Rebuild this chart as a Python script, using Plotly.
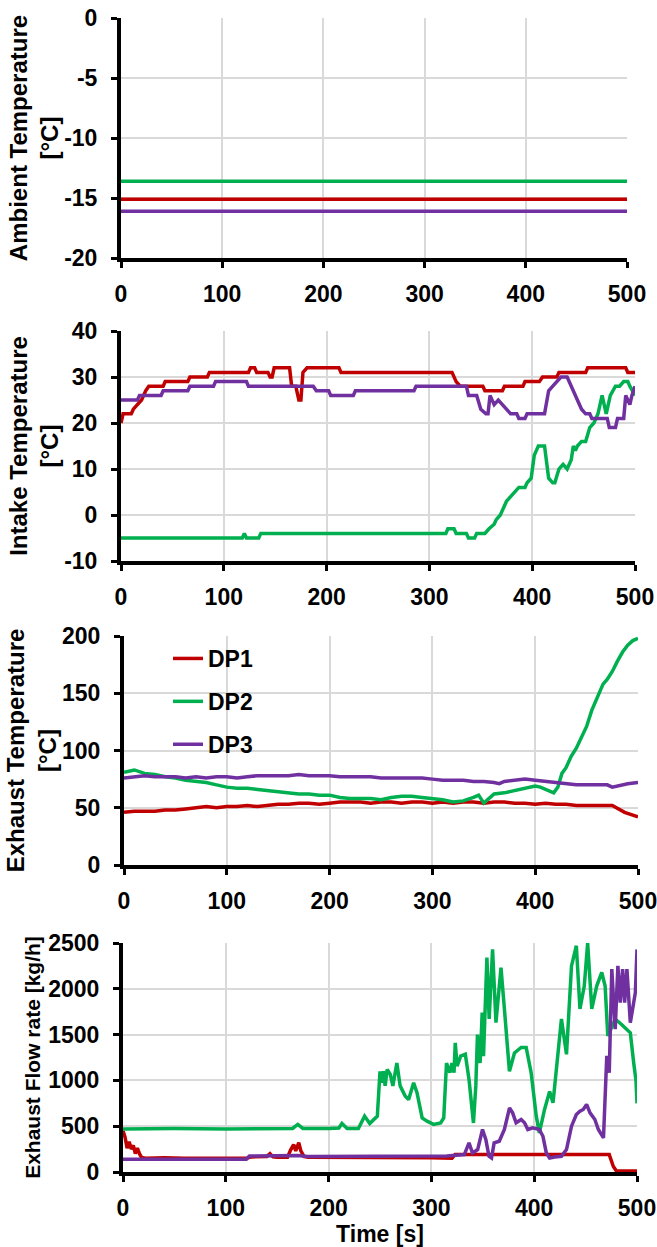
import plotly.graph_objects as go

W, H = 657, 1247
RED, GREEN, PURPLE = "#C00000", "#00B050", "#7030A0"
FONT = "Liberation Sans, Arial, sans-serif"

series_names = ["DP1", "DP2", "DP3"]
time_ticks = [0, 100, 200, 300, 400, 500]

# ---------------- Panel 1: Ambient temperature ----------------
amb_t = [0, 500]
amb_dp1 = [-15.1, -15.1]
amb_dp2 = [-13.6, -13.6]
amb_dp3 = [-16.1, -16.1]
amb_ticks = [-20, -15, -10, -5, 0]

# ---------------- Panel 2: Intake temperature ----------------
int_dp1_t = [0, 2, 5, 10, 12, 16, 20, 24, 27, 41, 43, 65, 67, 84, 86, 124, 126, 130, 132, 143, 145,
             147, 149, 164, 166, 170, 173, 175, 177, 181, 212, 214, 322, 326, 330, 352, 354, 371, 373,
             391, 393, 407, 410, 424, 426, 452, 454, 491, 493, 500]
int_dp1 = [20, 22, 22, 22, 23, 24, 25, 27, 28, 28, 29, 29, 30, 30, 31, 31, 32, 32, 31, 31, 30,
           30, 32, 32, 28, 28, 25, 25, 31, 32, 32, 31, 31, 29, 28, 28, 27, 27, 28,
           28, 29, 29, 30, 30, 31, 31, 32, 32, 31, 31]
int_dp2_t = [0, 118, 120, 122, 124, 134, 136, 316, 318, 324, 326, 336, 338, 344, 346, 354, 358, 363,
             365, 369, 371, 375, 379, 383, 387, 393, 395, 399, 402, 404, 406, 412, 414, 416, 420, 422,
             426, 430, 434, 436, 438, 440, 442, 444, 448, 452, 456, 460, 464, 468, 472, 476, 481, 485,
             489, 493, 495, 500]
int_dp2 = [-5, -5, -4, -5, -5, -5, -4, -4, -3, -3, -4, -4, -5, -5, -4, -4, -3, -2,
           -1, 0, 1, 3, 4, 5, 6, 6, 7, 8, 13, 14, 15, 15, 12, 8, 7, 7,
           10, 11, 10, 11, 12, 15, 14, 15, 16, 16, 19, 20, 22, 26, 22, 26, 28, 28,
           29, 29, 28, 26]
int_dp3_t = [0, 16, 18, 39, 41, 65, 67, 90, 92, 122, 124, 187, 190, 202, 204, 226, 228, 285, 287, 336,
             338, 346, 350, 355, 357, 359, 363, 367, 371, 375, 379, 385, 387, 393, 395, 412, 416, 420,
             424, 428, 434, 436, 440, 444, 448, 452, 456, 458, 473, 475, 481, 483, 489, 491, 495, 497, 500]
int_dp3 = [25, 25, 26, 26, 27, 27, 28, 28, 29, 29, 28, 28, 27, 27, 26, 26, 27, 27, 28, 28,
           26, 26, 23, 22, 22, 26, 24, 25, 24, 23, 22, 22, 21, 21, 22, 22, 27, 28,
           29, 30, 30, 29, 27, 25, 23, 22, 22, 21, 21, 19, 19, 21, 21, 26, 24, 26, 28]
int_ticks = [-10, 0, 10, 20, 30, 40]

# ---------------- Panel 3: Exhaust temperature ----------------
exh_dp1_t = [0, 10, 20, 30, 40, 50, 60, 70, 80, 90, 100, 110, 120, 130, 140, 150, 160, 170, 180, 190,
             200, 210, 220, 230, 240, 250, 260, 270, 280, 290, 300, 310, 320, 330, 340, 350, 360, 370,
             380, 390, 400, 410, 420, 430, 440, 450, 460, 470, 475, 487, 500]
exh_dp1 = [46, 47, 47, 47, 48, 48, 49, 50, 51, 50, 51, 51, 52, 51, 52, 53, 53, 54, 54, 53,
           54, 55, 55, 55, 54, 55, 55, 54, 55, 55, 54, 55, 54, 55, 55, 54, 55, 55,
           54, 54, 53, 54, 53, 53, 52, 52, 52, 52, 52, 46, 42]
exh_dp2_t = [0, 10, 20, 30, 40, 50, 60, 70, 80, 90, 100, 110, 120, 130, 140, 150, 160, 170, 180, 190,
             200, 210, 220, 230, 240, 250, 260, 270, 280, 290, 300, 310, 320, 330, 340, 345, 350, 355,
             360, 370, 380, 390, 400, 405, 410, 415, 418, 422, 426, 430, 435, 440, 445, 450, 455, 460,
             463, 466, 470, 475, 480, 485, 490, 495, 500]
exh_dp2 = [81, 83, 80, 79, 77, 76, 74, 73, 72, 70, 68, 67, 67, 66, 65, 64, 63, 62, 62, 61,
           61, 59, 58, 58, 58, 57, 59, 60, 60, 59, 58, 57, 55, 56, 59, 61, 54, 58,
           62, 63, 65, 67, 69, 68, 66, 64, 63, 68, 80, 85, 95, 102, 112, 121, 135, 145,
           152, 158, 162, 169, 178, 186, 192, 196, 198]
exh_dp3_t = [0, 10, 20, 30, 40, 50, 60, 70, 80, 90, 100, 110, 120, 130, 140, 150, 160, 170, 180, 190,
             200, 210, 220, 230, 240, 250, 260, 270, 280, 290, 300, 310, 320, 330, 340, 350, 360, 365,
             370, 380, 390, 400, 410, 420, 430, 440, 450, 460, 470, 475, 480, 490, 500]
exh_dp3 = [76, 77, 78, 77, 77, 77, 76, 77, 76, 77, 77, 76, 77, 78, 78, 78, 78, 79, 78, 78,
           78, 77, 77, 77, 77, 76, 76, 76, 76, 76, 75, 74, 74, 74, 73, 73, 72, 71,
           73, 74, 75, 74, 73, 72, 71, 70, 70, 70, 70, 68, 69, 71, 72]
exh_ticks = [0, 50, 100, 150, 200]

# ---------------- Panel 4: Exhaust flow rate ----------------
flow_dp1_t = [0, 2, 4, 6, 8, 10, 12, 14, 16, 18, 22, 40, 60, 80, 100, 120, 125, 135, 140, 143, 146,
              150, 160, 163, 166, 168, 171, 173, 176, 180, 200, 250, 300, 320, 323, 350, 400, 450,
              470, 473, 477, 480, 500]
flow_dp1 = [450, 380, 260, 330, 250, 290, 200, 260, 200, 160, 150, 155, 150, 150, 150, 150, 165, 165,
            170, 200, 165, 160, 160, 240, 300, 230, 320, 230, 170, 160, 160, 160, 155, 150, 190, 190,
            190, 190, 190, 190, 60, 10, 10]
flow_dp2_t = [0, 50, 100, 150, 165, 170, 175, 200, 210, 213, 218, 229, 235, 240, 245, 247.4, 250,
              251.7, 253.3, 255, 257, 260, 262.5, 266.4, 269.6, 274.5, 277.8, 282.7, 286, 291, 295.8,
              302, 309, 312, 314.7, 318, 320, 322, 323.2, 325, 328.5, 333, 336.6, 340.9, 343.2, 344.8,
              347.4, 349.4, 350.7, 354, 356.2, 359.5, 362.8, 367.7, 371.6, 375.9, 380.8, 387.3, 392.2,
              397, 402, 405, 410, 415, 418.3, 423, 426.5, 431.4, 436.3, 441, 444.5, 448.7, 452, 456,
              460.8, 465.7, 469, 471.6, 478.8, 485, 493.5, 496.8, 499, 500]
flow_dp2 = [470, 475, 470, 470, 475, 520, 475, 475, 480, 530, 475, 475, 610, 530, 590, 610, 1100,
            975, 1100, 940, 1120, 1065, 940, 1190, 940, 830, 790, 975, 865, 590, 555,
            520, 535, 590, 1190, 1085, 1190, 1085, 1410, 1155, 1265, 1285, 1010, 535, 940, 1500,
            1190, 1740, 1265, 2340, 1670, 2430, 1630, 2230, 1700, 1100, 1300, 1360, 1360,
            1085, 610, 427, 680, 880, 755, 1230, 1670, 1285, 2250, 2470, 1780, 2030, 2500, 1780,
            2030, 2180, 2030, 1485, 1670, 1610, 1520, 1190, 1000, 750]
flow_dp3_t = [0, 60, 120, 123, 165, 170, 180, 250, 315, 332, 336.6, 340, 345, 349.7, 353, 356, 358.5,
              361, 366, 371, 376, 379, 382.4, 387.3, 390.6, 393.8, 398.7, 405, 408.5, 411.8, 415, 420,
              426.5, 431.4, 436.3, 441, 444.5, 447.7, 451, 454.3, 459, 462.4, 467.4, 470.6, 473,
              475.5, 478.8, 481.4, 483.7, 486, 488, 490.2, 493.5, 498.4, 500]
flow_dp3 = [140, 140, 140, 175, 175, 180, 170, 175, 175, 190, 318, 208, 245, 464, 354, 172, 153,
            318, 336, 464, 700, 646, 537, 573, 537, 464, 482, 464, 390, 208, 153, 164,
            172, 245, 500, 628, 664, 683, 737, 646, 573, 464, 372, 1267, 1084,
            2215, 1560, 2250, 1850, 2215, 1850, 2215, 1630, 1960, 2430]
flow_ticks = [0, 500, 1000, 1500, 2000, 2500]

colors = [RED, GREEN, PURPLE]

panels = [
    dict(series=[(amb_t, amb_dp1), (amb_t, amb_dp2), (amb_t, amb_dp3)], ticks=amb_ticks,
         title="Ambient Temperature<br>[°C]", px=(121, 627), py=(18, 258)),
    dict(series=[(int_dp1_t, int_dp1), (int_dp2_t, int_dp2), (int_dp3_t, int_dp3)], ticks=int_ticks,
         title="Intake Temperature<br>[°C]", px=(121, 635), py=(331, 561)),
    dict(series=[(exh_dp1_t, exh_dp1), (exh_dp2_t, exh_dp2), (exh_dp3_t, exh_dp3)], ticks=exh_ticks,
         title="Exhaust Temperature<br>[°C]", px=(124, 638), py=(636, 865)),
    dict(series=[(flow_dp1_t, flow_dp1), (flow_dp2_t, flow_dp2), (flow_dp3_t, flow_dp3)], ticks=flow_ticks,
         title="Exhaust Flow rate [kg/h]", px=(123, 637), py=(943, 1172)),
]

fig = go.Figure()
layout = dict(
    width=W, height=H,
    margin=dict(l=0, r=0, t=0, b=0),
    paper_bgcolor="white", plot_bgcolor="white",
    font=dict(family=FONT, color="black", size=23, weight="bold"),
    showlegend=True,
    legend=dict(x=168 / W, y=1 - 637 / H, xanchor="left", yanchor="top",
                bgcolor="rgba(0,0,0,0)", tracegroupgap=10,
                font=dict(family=FONT, size=23, color="black", weight="bold")),
)

for i, p in enumerate(panels, start=1):
    xa = "x" if i == 1 else f"x{i}"
    ya = "y" if i == 1 else f"y{i}"
    for k, ((t, v), c, nm) in enumerate(zip(p["series"], colors, series_names)):
        fig.add_trace(go.Scatter(
            x=t, y=v, mode="lines", name=nm, xaxis=xa, yaxis=ya,
            line=dict(color=c, width=3.5), legendgroup=nm,
            showlegend=(i == 3), hoverinfo="skip"))
    common = dict(showline=True, linecolor="black", linewidth=4, ticks="outside",
                  tickcolor="black", tickwidth=3, ticklen=6, showgrid=True,
                  gridcolor="#D9D9D9", gridwidth=1.5, zeroline=False, automargin=False,
                  ticklabeloverflow="allow",
                  tickfont=dict(family=FONT, size=23, color="black", weight="bold"))
    layout["xaxis" if i == 1 else f"xaxis{i}"] = dict(
        common, domain=[p["px"][0] / W, p["px"][1] / W], anchor=ya, range=[0, 500],
        tickvals=time_ticks, ticktext=[str(t) for t in time_ticks], ticklabelstandoff=6,
        title=dict(text="Time [s]", standoff=8, font=dict(family=FONT, size=23, weight="bold")) if i == 4 else None)
    ylo, yhi = p["ticks"][0], p["ticks"][-1]
    layout["yaxis" if i == 1 else f"yaxis{i}"] = dict(
        common, domain=[1 - p["py"][1] / H, 1 - p["py"][0] / H], anchor=xa, range=[ylo, yhi],
        tickvals=p["ticks"], ticktext=[str(t) for t in p["ticks"]], ticklabelstandoff=9,
        title=dict(text=p["title"], standoff=3 if i == 4 else 0,
                   font=dict(family=FONT, size=21 if i == 4 else 24, weight="bold")))

fig.update_layout(**layout)
fig.write_html("out.html")
